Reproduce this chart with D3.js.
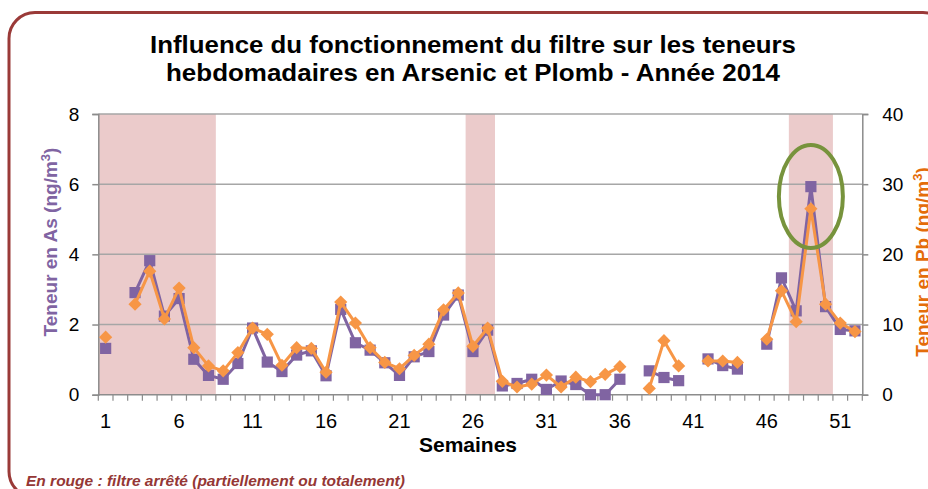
<!DOCTYPE html>
<html>
<head>
<meta charset="utf-8">
<script src="https://cdn.jsdelivr.net/npm/d3@7"></script>
<style>
  body { margin: 0; background: #fff; }
  svg { display: block; font-family: "Liberation Sans", Arial, sans-serif; }
</style>
</head>
<body>
<svg id="chart"></svg>
<script>
// semaines 1..52, null = pas de mesure
var weeks = d3.range(1, 53);
var arsenic = [1.32, null, 2.91, 3.82, 2.24, 2.74, 1.01, 0.55, 0.44, 0.89,
  1.90, 0.93, 0.66, 1.13, 1.25, 0.54, 2.43, 1.48, 1.27, 0.91,
  0.55, 1.08, 1.23, 2.27, 2.84, 1.23, 1.84, 0.25, 0.32, 0.44,
  0.15, 0.39, 0.29, 0.0, 0.0, 0.44, null, 0.68, 0.49, 0.40,
  null, 1.02, 0.83, 0.73, null, 1.44, 3.33, 2.39, 5.93, 2.51,
  1.86, 1.82];
var plomb = [8.2, null, 12.9, 17.6, 10.8, 15.2, 6.7, 4.1, 3.4, 6.0,
  9.5, 8.6, 4.2, 6.7, 6.6, 3.2, 13.2, 10.2, 6.7, 4.6,
  3.7, 5.6, 7.2, 12.1, 14.5, 6.9, 9.5, 1.9, 1.1, 1.5,
  2.8, 1.1, 2.5, 1.85, 2.9, 4.0, null, 0.9, 7.7, 4.1,
  null, 4.8, 4.8, 4.6, null, 7.9, 14.8, 10.4, 26.5, 12.9,
  10.2, 9.0];
// periodes filtre arrete (semaine debut, semaine fin)
var filterOff = [[1, 8], [26, 27], [48, 50]];
var asTicks = [0, 2, 4, 6, 8];
var pbTicks = [0, 10, 20, 30, 40];
var weekLabels = [1, 6, 11, 16, 21, 26, 31, 36, 41, 46, 51];
var peakWeek = 49;

var width = 928, height = 489;
var plotLeft = 98.3, plotRight = 862.3, plotTop = 114, plotBottom = 394.7;

var svg = d3.select("#chart")
    .attr("width", width)
    .attr("height", height);

// cadre
svg.append("rect")
    .attr("x", 9).attr("y", 12.5)
    .attr("width", 940).attr("height", 485)
    .attr("rx", 26).attr("ry", 26)
    .attr("fill", "none")
    .attr("stroke", "#9a3a38")
    .attr("stroke-width", 3);

var x = d3.scaleBand().domain(weeks).range([plotLeft, plotRight]).padding(0);
var yAs = d3.scaleLinear().domain([0, 8]).range([plotBottom, plotTop]);
var yPb = d3.scaleLinear().domain([0, 40]).range([plotBottom, plotTop]);

// bandes rouges
svg.append("g").selectAll("rect")
    .data(filterOff)
    .enter().append("rect")
    .attr("x", function(d) { return x(d[0]); })
    .attr("width", function(d) { return x(d[1]) + x.bandwidth() - x(d[0]); })
    .attr("y", plotTop)
    .attr("height", plotBottom - plotTop)
    .attr("fill", "#ebcbcb");

// grille
svg.append("g").selectAll("line")
    .data(asTicks.slice(1))
    .enter().append("line")
    .attr("x1", plotLeft).attr("x2", plotRight)
    .attr("y1", function(d) { return yAs(d); })
    .attr("y2", function(d) { return yAs(d); })
    .attr("stroke", "#a6a6a6")
    .attr("stroke-width", 1.5);

var axisColor = "#8c8c8c";

// axe gauche
var gl = svg.append("g")
    .attr("transform", "translate(" + plotLeft + ",0)")
    .call(d3.axisLeft(yAs).tickValues(asTicks).tickSize(6).tickPadding(13).tickFormat(d3.format("d")));
// axe droit
var gr = svg.append("g")
    .attr("transform", "translate(" + plotRight + ",0)")
    .call(d3.axisRight(yPb).tickValues(pbTicks).tickSize(6).tickPadding(14).tickFormat(d3.format("d")));
[gl, gr].forEach(function(g) {
  g.select(".domain").attr("stroke", axisColor).attr("stroke-width", 1.5);
  g.selectAll(".tick line").attr("stroke", axisColor).attr("stroke-width", 1.5);
  g.selectAll(".tick text").attr("font-size", 19).attr("fill", "#000")
    .attr("font-family", "Liberation Sans, Arial, sans-serif");
});

// axe du bas
svg.append("line")
    .attr("x1", plotLeft).attr("x2", plotRight)
    .attr("y1", plotBottom).attr("y2", plotBottom)
    .attr("stroke", axisColor).attr("stroke-width", 1.5);
svg.append("g").selectAll("line")
    .data(weeks.concat([53]))
    .enter().append("line")
    .attr("x1", function(d) { return d === 53 ? plotRight : x(d); })
    .attr("x2", function(d) { return d === 53 ? plotRight : x(d); })
    .attr("y1", plotBottom).attr("y2", plotBottom + 6)
    .attr("stroke", axisColor).attr("stroke-width", 1.2);
svg.append("g").selectAll("text")
    .data(weekLabels)
    .enter().append("text")
    .attr("x", function(d) { return x(d) + x.bandwidth() / 2; })
    .attr("y", 428)
    .attr("text-anchor", "middle")
    .attr("font-size", 20)
    .text(function(d) { return d; });

// series
var purple = "#8064a2", orange = "#f79646";

function drawSeries(values, yScale, color, shape) {
  var pts = weeks.map(function(w, i) { return { w: w, v: values[i] }; });
  var line = d3.line()
      .defined(function(d) { return d.v !== null; })
      .x(function(d) { return x(d.w) + x.bandwidth() / 2; })
      .y(function(d) { return yScale(d.v); });
  svg.append("path")
      .datum(pts)
      .attr("d", line)
      .attr("fill", "none")
      .attr("stroke", color)
      .attr("stroke-width", 3)
      .attr("stroke-linejoin", "round");
  svg.append("g").selectAll("path")
      .data(pts.filter(function(d) { return d.v !== null; }))
      .enter().append("path")
      .attr("transform", function(d) {
        return "translate(" + (x(d.w) + x.bandwidth() / 2) + "," + yScale(d.v) + ")";
      })
      .attr("d", shape)
      .attr("fill", color);
}
drawSeries(arsenic, yAs, purple, "M-5.6,-5.6H5.6V5.6H-5.6Z");
drawSeries(plomb, yPb, orange, "M0,-6.6L6.6,0L0,6.6L-6.6,0Z");

// ellipse autour du pic
svg.append("ellipse")
    .attr("cx", x(peakWeek) + x.bandwidth() / 2)
    .attr("cy", yAs(5.65))
    .attr("rx", 32).attr("ry", 51.5)
    .attr("fill", "none")
    .attr("stroke", "#77933c")
    .attr("stroke-width", 4);

// titres
var title = svg.append("text")
    .attr("text-anchor", "middle")
    .attr("font-size", 24)
    .attr("font-weight", "bold");
title.append("tspan").attr("x", 473).attr("y", 53)
    .attr("textLength", 646).attr("lengthAdjust", "spacingAndGlyphs")
    .text("Influence du fonctionnement du filtre sur les teneurs");
title.append("tspan").attr("x", 473).attr("y", 81)
    .attr("textLength", 614).attr("lengthAdjust", "spacingAndGlyphs")
    .text("hebdomadaires en Arsenic et Plomb - Année 2014");

svg.append("text")
    .attr("x", 468).attr("y", 452)
    .attr("text-anchor", "middle")
    .attr("font-size", 21)
    .attr("font-weight", "bold")
    .text("Semaines");

var lt = svg.append("text")
    .attr("transform", "translate(57,242) rotate(-90)")
    .attr("text-anchor", "middle")
    .attr("font-size", 19)
    .attr("font-weight", "bold")
    .attr("fill", purple);
lt.append("tspan").text("Teneur en As (ng/m");
lt.append("tspan").attr("dy", -7).attr("font-size", 13).text("3");
lt.append("tspan").attr("dy", 7).text(")");

var rt = svg.append("text")
    .attr("transform", "translate(929,262) rotate(-90)")
    .attr("text-anchor", "middle")
    .attr("font-size", 19)
    .attr("font-weight", "bold")
    .attr("fill", "#e46c0a");
rt.append("tspan").text("Teneur en Pb (ng/m");
rt.append("tspan").attr("dy", -7).attr("font-size", 13).text("3");
rt.append("tspan").attr("dy", 7).text(")");

svg.append("text")
    .attr("x", 26).attr("y", 486)
    .attr("font-size", 15.5)
    .attr("font-weight", "bold")
    .attr("font-style", "italic")
    .attr("fill", "#953735")
    .text("En rouge : filtre arrêté (partiellement ou totalement)");
</script>
</body>
</html>
